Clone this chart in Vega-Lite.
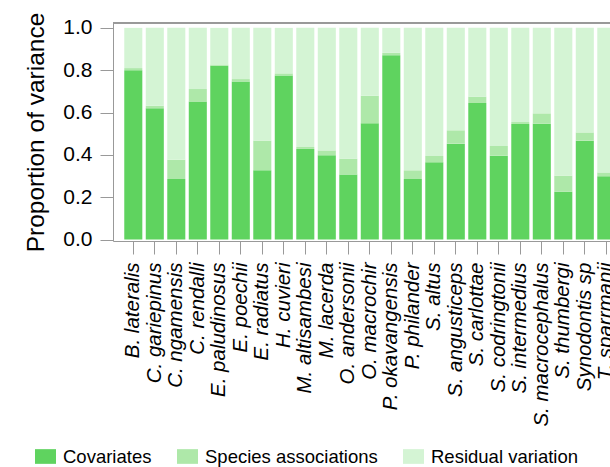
{
  "$schema": "https://vega.github.io/schema/vega-lite/v6.json",
  "width": 497,
  "height": 218,
  "autosize": {"type": "none"},
  "padding": {"left": 113, "top": 23, "right": 0, "bottom": 226},
  "background": "white",
  "config": {
    "view": {"stroke": null},
    "font": "Liberation Sans",
    "axis": {"grid": false, "domainColor": "#999999", "tickColor": "#999999", "labelColor": "#000000", "titleColor": "#000000", "labelFont": "Liberation Sans", "titleFont": "Liberation Sans"}
  },
  "data": {
    "values": [
      {"species": "B. lateralis", "component": "Covariates", "value": 0.80, "k": 1},
      {"species": "B. lateralis", "component": "Species associations", "value": 0.01, "k": 2},
      {"species": "B. lateralis", "component": "Residual variation", "value": 0.19, "k": 3},
      {"species": "C. gariepinus", "component": "Covariates", "value": 0.62, "k": 1},
      {"species": "C. gariepinus", "component": "Species associations", "value": 0.012, "k": 2},
      {"species": "C. gariepinus", "component": "Residual variation", "value": 0.368, "k": 3},
      {"species": "C. ngamensis", "component": "Covariates", "value": 0.286, "k": 1},
      {"species": "C. ngamensis", "component": "Species associations", "value": 0.091, "k": 2},
      {"species": "C. ngamensis", "component": "Residual variation", "value": 0.623, "k": 3},
      {"species": "C. rendalli", "component": "Covariates", "value": 0.652, "k": 1},
      {"species": "C. rendalli", "component": "Species associations", "value": 0.059, "k": 2},
      {"species": "C. rendalli", "component": "Residual variation", "value": 0.289, "k": 3},
      {"species": "E. paludinosus", "component": "Covariates", "value": 0.821, "k": 1},
      {"species": "E. paludinosus", "component": "Species associations", "value": 0.006, "k": 2},
      {"species": "E. paludinosus", "component": "Residual variation", "value": 0.173, "k": 3},
      {"species": "E. poechii", "component": "Covariates", "value": 0.747, "k": 1},
      {"species": "E. poechii", "component": "Species associations", "value": 0.011, "k": 2},
      {"species": "E. poechii", "component": "Residual variation", "value": 0.242, "k": 3},
      {"species": "E. radiatus", "component": "Covariates", "value": 0.327, "k": 1},
      {"species": "E. radiatus", "component": "Species associations", "value": 0.14, "k": 2},
      {"species": "E. radiatus", "component": "Residual variation", "value": 0.533, "k": 3},
      {"species": "H. cuvieri", "component": "Covariates", "value": 0.775, "k": 1},
      {"species": "H. cuvieri", "component": "Species associations", "value": 0.01, "k": 2},
      {"species": "H. cuvieri", "component": "Residual variation", "value": 0.215, "k": 3},
      {"species": "M. altisambesi", "component": "Covariates", "value": 0.428, "k": 1},
      {"species": "M. altisambesi", "component": "Species associations", "value": 0.009, "k": 2},
      {"species": "M. altisambesi", "component": "Residual variation", "value": 0.563, "k": 3},
      {"species": "M. lacerda", "component": "Covariates", "value": 0.398, "k": 1},
      {"species": "M. lacerda", "component": "Species associations", "value": 0.023, "k": 2},
      {"species": "M. lacerda", "component": "Residual variation", "value": 0.579, "k": 3},
      {"species": "O. andersonii", "component": "Covariates", "value": 0.307, "k": 1},
      {"species": "O. andersonii", "component": "Species associations", "value": 0.075, "k": 2},
      {"species": "O. andersonii", "component": "Residual variation", "value": 0.618, "k": 3},
      {"species": "O. macrochir", "component": "Covariates", "value": 0.549, "k": 1},
      {"species": "O. macrochir", "component": "Species associations", "value": 0.13, "k": 2},
      {"species": "O. macrochir", "component": "Residual variation", "value": 0.321, "k": 3},
      {"species": "P. okavangensis", "component": "Covariates", "value": 0.871, "k": 1},
      {"species": "P. okavangensis", "component": "Species associations", "value": 0.011, "k": 2},
      {"species": "P. okavangensis", "component": "Residual variation", "value": 0.118, "k": 3},
      {"species": "P. philander", "component": "Covariates", "value": 0.286, "k": 1},
      {"species": "P. philander", "component": "Species associations", "value": 0.041, "k": 2},
      {"species": "P. philander", "component": "Residual variation", "value": 0.673, "k": 3},
      {"species": "S. altus", "component": "Covariates", "value": 0.365, "k": 1},
      {"species": "S. altus", "component": "Species associations", "value": 0.03, "k": 2},
      {"species": "S. altus", "component": "Residual variation", "value": 0.605, "k": 3},
      {"species": "S. angusticeps", "component": "Covariates", "value": 0.453, "k": 1},
      {"species": "S. angusticeps", "component": "Species associations", "value": 0.063, "k": 2},
      {"species": "S. angusticeps", "component": "Residual variation", "value": 0.484, "k": 3},
      {"species": "S. carlottae", "component": "Covariates", "value": 0.645, "k": 1},
      {"species": "S. carlottae", "component": "Species associations", "value": 0.03, "k": 2},
      {"species": "S. carlottae", "component": "Residual variation", "value": 0.325, "k": 3},
      {"species": "S. codringtonii", "component": "Covariates", "value": 0.396, "k": 1},
      {"species": "S. codringtonii", "component": "Species associations", "value": 0.046, "k": 2},
      {"species": "S. codringtonii", "component": "Residual variation", "value": 0.558, "k": 3},
      {"species": "S. intermedius", "component": "Covariates", "value": 0.546, "k": 1},
      {"species": "S. intermedius", "component": "Species associations", "value": 0.009, "k": 2},
      {"species": "S. intermedius", "component": "Residual variation", "value": 0.445, "k": 3},
      {"species": "S. macrocephalus", "component": "Covariates", "value": 0.547, "k": 1},
      {"species": "S. macrocephalus", "component": "Species associations", "value": 0.049, "k": 2},
      {"species": "S. macrocephalus", "component": "Residual variation", "value": 0.404, "k": 3},
      {"species": "S. thumbergi", "component": "Covariates", "value": 0.226, "k": 1},
      {"species": "S. thumbergi", "component": "Species associations", "value": 0.076, "k": 2},
      {"species": "S. thumbergi", "component": "Residual variation", "value": 0.698, "k": 3},
      {"species": "Synodontis sp", "component": "Covariates", "value": 0.467, "k": 1},
      {"species": "Synodontis sp", "component": "Species associations", "value": 0.039, "k": 2},
      {"species": "Synodontis sp", "component": "Residual variation", "value": 0.494, "k": 3},
      {"species": "T. sparrmanii", "component": "Covariates", "value": 0.299, "k": 1},
      {"species": "T. sparrmanii", "component": "Species associations", "value": 0.018, "k": 2},
      {"species": "T. sparrmanii", "component": "Residual variation", "value": 0.683, "k": 3}
    ]
  },
  "layer": [
    {
      "mark": {"type": "bar", "clip": true},
      "encoding": {
        "x": {
          "field": "species",
          "type": "nominal",
          "sort": null,
          "scale": {"type": "band", "range": [0, 513.6], "paddingInner": 0.16, "paddingOuter": 0.524},
          "axis": {
            "title": null,
            "labelAngle": 270,
            "labelAlign": "right",
            "labelBaseline": "middle",
            "labelFontSize": 20.5,
            "labelFontStyle": "italic",
            "labelPadding": 8,
            "tickSize": 13,
            "labelOverlap": false,
            "labelLimit": 300
          }
        },
        "y": {
          "field": "value",
          "type": "quantitative",
          "stack": "zero",
          "scale": {"domain": [-0.007, 1.023], "nice": false, "zero": false},
          "axis": {
            "title": "Proportion of variance",
            "titleFontSize": 24.5,
            "titleFontWeight": "normal",
            "titlePadding": 14,
            "values": [0, 0.2, 0.4, 0.6, 0.8, 1.0],
            "format": ".1f",
            "labelFontSize": 21,
            "labelPadding": 8,
            "tickSize": 13
          }
        },
        "color": {
          "field": "component",
          "type": "nominal",
          "scale": {
            "domain": ["Covariates", "Species associations", "Residual variation"],
            "range": ["#5fd35f", "#aee8a9", "#d4f4d4"]
          },
          "legend": {
            "title": null,
            "orient": "none",
            "direction": "horizontal",
            "legendX": -78,
            "legendY": 423,
            "symbolType": "M-1,-0.7H1V0.7H-1Z",
            "symbolSize": 441,
            "symbolStrokeWidth": 0,
            "symbolOpacity": 1,
            "labelFontSize": 18.5,
            "labelFont": "Liberation Sans",
            "labelColor": "#000000",
            "labelOffset": 7,
            "columnPadding": 25,
            "labelLimit": 300
          }
        },
        "order": {"field": "k", "type": "quantitative"}
      }
    },
    {
      "mark": {"type": "rule", "color": "#999999", "strokeWidth": 1},
      "encoding": {"y": {"datum": 1.023}}
    }
  ]
}
